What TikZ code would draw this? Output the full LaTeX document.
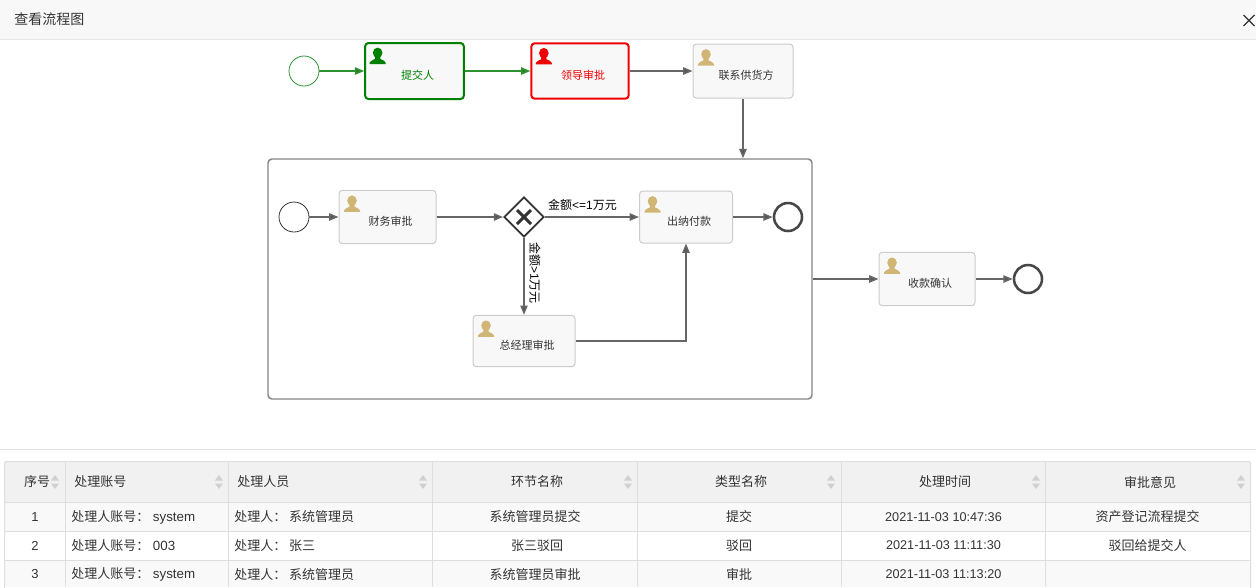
\documentclass[tikz,border=0pt]{standalone}
\usepackage{fontspec}
\setmainfont{Noto Sans CJK SC}
\newfontfamily\latf{Liberation Sans}
\usetikzlibrary{arrows.meta,shapes.geometric}
\definecolor{flowgreen}{HTML}{008000}
\definecolor{flowgreenl}{HTML}{2E922E}
\definecolor{flowred}{HTML}{F00000}
\definecolor{flowgray}{HTML}{666666}
\definecolor{gold}{HTML}{D1B574}
\definecolor{cellline}{HTML}{DEDEDE}
\definecolor{headfill}{HTML}{F1F1F1}
\definecolor{rowfill}{HTML}{F9F9F9}
\definecolor{sorticon}{HTML}{D0D0D0}
\definecolor{txt}{HTML}{333333}
\definecolor{boxline}{HTML}{CCCCCC}
\definecolor{boxfill}{HTML}{F8F8F8}
\newcommand{\fs}[1]{\fontsize{#1}{#1}\selectfont}
\newcommand{\personicon}[2]{%
  \fill[#2,shift={(#1)}] (13.5,10.8) ellipse [x radius=4.8,y radius=5.2]
    (5.5,22) -- (5.5,20.5) .. controls (5.8,18.3) and (9.5,18.3) .. (10.8,17) -- (11,14) -- (16,14) -- (16.2,17) .. controls (17.5,18.3) and (21.2,18.3) .. (21.5,20.5) -- (21.5,22) -- cycle;}
\newcommand{\sorter}[1]{%
  \fill[sorticon] (#1-4,480.5) -- (#1,475) -- (#1+4,480.5) -- cycle
                  (#1-4,483.5) -- (#1,489) -- (#1+4,483.5) -- cycle;}
\tikzset{
  taskbox/.style={draw=#1,rectangle,rounded corners=2.5pt,fill=boxfill,inner sep=0pt,line width=0.75pt},
  tasktxt/.style={font=\fs{8.25},text=#1,xshift=2.25pt,yshift=-3pt,inner sep=0pt},
  startev/.style={circle,draw=#1,fill=white,inner sep=0pt,minimum size=22.5pt,line width=0.6pt},
  endev/.style={circle,draw=#1,fill=white,inner sep=0pt,minimum size=21pt,line width=1.9pt},
  flowarrow/.style={draw=#1,line width=1.15pt,-{Triangle[length=7pt,width=5.5pt,fill=#1!85!black]}},
  flowlab/.style={font=\fs{9},text=black,inner sep=0pt},
  celltxt/.style={font=\fs{9.75},text=txt,inner sep=0pt},
  rule/.style={cellline,line width=0.75pt}
}
\begin{document}
\begin{tikzpicture}[x=0.75pt,y=-0.75pt]
\useasboundingbox (0,0) rectangle (1256,587);
% title bar
\fill[white] (0,0) rectangle (1256,587);
\fill[boxfill] (0,0) rectangle (1256,39.5);
\draw[rule,draw=white!90!black] (0,39.5) -- (1256,39.5);
\node[anchor=west,font=\fs{10.5},text=txt,inner sep=0pt] (title) at (14,19.5) {查看流程图};
\draw[txt,line width=1pt] (1243.5,15) -- (1254.5,26) (1243.5,26) -- (1254.5,15);
\draw[rule,draw=white!90!black] (0,449.5) -- (1256,449.5);

% sub-process
\node[draw=flowgray!80,rectangle,rounded corners=3pt,line width=1.1pt,fill=white,inner sep=0pt,minimum width=408pt,minimum height=180pt] (sub) at (540,279) {};

% top row
\node[startev=flowgreenl] (s1) at (304,71) {};
\node[taskbox=flowgreen,line width=1.5pt,minimum width=74pt,minimum height=42pt,
  label={[tasktxt=flowgreen]center:提交人}] (t1) at (414.5,71) {};
\node[taskbox=flowred,line width=1.5pt,minimum width=73pt,minimum height=41.5pt,
  label={[tasktxt=flowred]center:领导审批}] (t2) at (580,71) {};
\node[taskbox=boxline,minimum width=75pt,minimum height=40.5pt,
  label={[tasktxt=txt]center:联系供货方}] (t3) at (743,71) {};

% inside the sub-process
\node[startev=txt] (s2) at (294,217) {};
\node[taskbox=boxline,minimum width=72.75pt,minimum height=40pt,
  label={[tasktxt=txt]center:财务审批}] (fin) at (387.5,217) {};
\node[diamond,draw=txt,fill=white,line width=1.3pt,inner sep=0pt,minimum width=30pt,minimum height=30pt,aspect=1] (gw) at (524,217) {};
\node[taskbox=boxline,minimum width=69.75pt,minimum height=39pt,
  label={[tasktxt=txt]center:出纳付款}] (pay) at (686,217) {};
\node[endev=txt!90!white] (e1) at (788,217) {};
\node[taskbox=boxline,minimum width=76.5pt,minimum height=38.5pt,
  label={[tasktxt=txt]center:总经理审批}] (mgr) at (524,341) {};

% after the sub-process
\node[taskbox=boxline,minimum width=72pt,minimum height=40pt,
  label={[tasktxt=txt]center:收款确认}] (conf) at (927,279) {};
\node[endev=txt!90!white] (e2) at (1028,279) {};

% person icons
\personicon{t1.north west}{flowgreen}
\personicon{t2.north west}{flowred}
\personicon{t3.north west}{gold}
\personicon{fin.north west}{gold}
\personicon{pay.north west}{gold}
\personicon{mgr.north west}{gold}
\personicon{conf.north west}{gold}

% gateway cross
\draw[txt,line width=2.2pt] ([shift={(-7,-7)}]gw.center) -- ([shift={(7,7)}]gw.center)
  ([shift={(-7,7)}]gw.center) -- ([shift={(7,-7)}]gw.center);

% connectors
\draw[flowarrow=flowgreenl] (s1) -- (s1 -| t1.west);
\draw[flowarrow=flowgreenl] (t1.east) -- (t1.east -| t2.west);
\draw[flowarrow=flowgray] (t2.east) -- (t3.west);
\draw[flowarrow=flowgray] (t3.south) -- (t3.south |- sub.north);
\draw[flowarrow=flowgray] (s2.east) -- (s2 -| fin.west);
\draw[flowarrow=flowgray] (fin.east) -- (fin.east -| gw.west);
\draw[flowarrow=flowgray] (gw.east) -- (gw.east -| pay.west);
\draw[flowarrow=flowgray] (pay.east) -- (pay.east -| e1.west);
\draw[flowarrow=flowgray] (gw.south) -- (mgr.north);
\draw[flowarrow=flowgray] (mgr.east) -| (pay.south);
\draw[flowarrow=flowgray] (sub.east) -- (sub.east -| conf.west);
\draw[flowarrow=flowgray] (conf.east) -- (conf.east -| e2.west);

% connector labels
\node[flowlab] (l1) at (582.5,204.5) {金额{\latf\fs{9}<=1}万元};
\node[flowlab,rotate=-90] (l2) at (535,273) {金额{\latf\fs{9}>1}万元};

% table
\fill[headfill] (4.5,461.5) rectangle (1250.5,502);
\fill[rowfill] (4.5,502) rectangle (1250.5,531);
\fill[white] (4.5,531) rectangle (1250.5,560);
\fill[rowfill] (4.5,560) rectangle (1250.5,587);
\draw[rule,rounded corners=1.5pt] (4.5,590) -- (4.5,461.5) -- (1250.5,461.5) -- (1250.5,590);
\foreach \cx in {65.5,228.5,432.5,637.5,841.5,1045.5} \draw[rule] (\cx,461.5) -- (\cx,587);
\foreach \ry in {502,531,560} \draw[rule] (4.5,\ry) -- (1250.5,\ry);
\foreach \sx in {55,219,423,628,831,1036,1241} {\sorter{\sx}}

% header
\node[celltxt] at (37,482) {序号};
\node[celltxt,anchor=west] at (74,482) {处理账号};
\node[celltxt,anchor=west] at (237,482) {处理人员};
\node[celltxt] at (537,482) {环节名称};
\node[celltxt] at (741,482) {类型名称};
\node[celltxt] at (945,482) {处理时间};
\node[celltxt] at (1150,482) {审批意见};

% rows
\node[celltxt] at (35,517) {\latf 1};
\node[celltxt] at (35,545.5) {\latf 2};
\node[celltxt] at (35,574.5) {\latf 3};
\node[celltxt,anchor=west] at (71,517) {处理人账号：{\latf\fs{10} system}};
\node[celltxt,anchor=west] at (71,545.5) {处理人账号：{\latf\fs{10} 003}};
\node[celltxt,anchor=west] at (71,574.5) {处理人账号：{\latf\fs{10} system}};
\node[celltxt,anchor=west] at (234,517) {处理人： 系统管理员};
\node[celltxt,anchor=west] at (234,545.5) {处理人： 张三};
\node[celltxt,anchor=west] at (234,574.5) {处理人： 系统管理员};
\node[celltxt] at (535,517) {系统管理员提交};
\node[celltxt] at (537,545.5) {张三驳回};
\node[celltxt] at (535,574.5) {系统管理员审批};
\node[celltxt] at (739,517) {提交};
\node[celltxt] at (739,545.5) {驳回};
\node[celltxt] at (739,574.5) {审批};
\node[celltxt,font=\latf\fs{9.5}] at (943.5,517) {2021-11-03 10:47:36};
\node[celltxt,font=\latf\fs{9.5}] at (943.5,545.5) {2021-11-03 11:11:30};
\node[celltxt,font=\latf\fs{9.5}] at (943.5,574.5) {2021-11-03 11:13:20};
\node[celltxt] at (1147.5,517) {资产登记流程提交};
\node[celltxt] at (1147.5,545.5) {驳回给提交人};
\end{tikzpicture}
\end{document}
